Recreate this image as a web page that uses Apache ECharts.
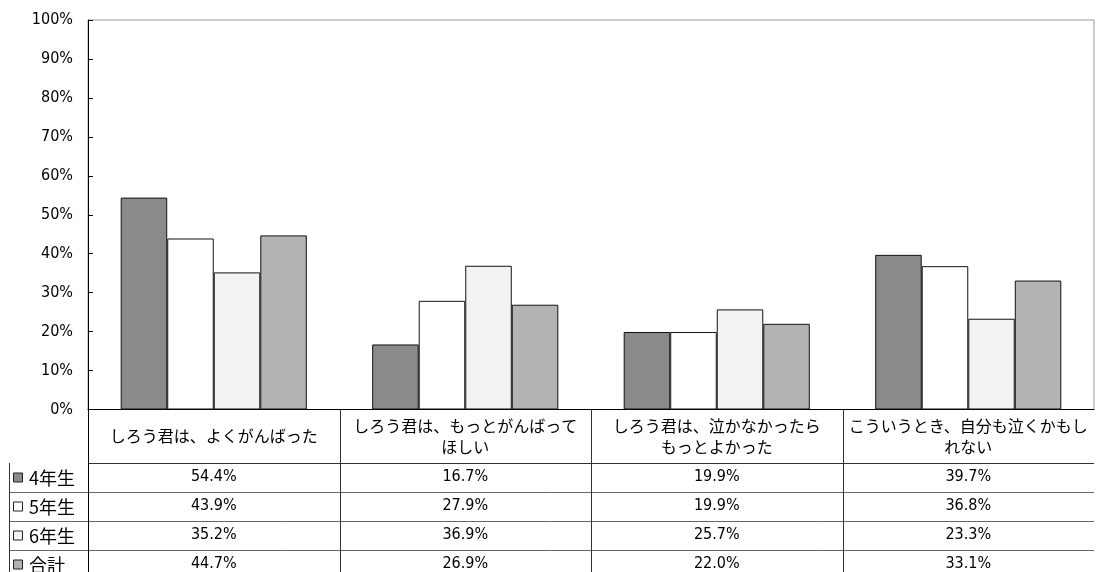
<!DOCTYPE html>
<html>
<head>
<meta charset="utf-8">
<script src="https://cdn.jsdelivr.net/npm/echarts@6/dist/echarts.min.js"></script>
<style>
  html, body { margin: 0; padding: 0; background: #fff; }
  #chart { width: 1098px; height: 572px; }
</style>
</head>
<body>
<div id="chart"></div>
<script>
// categories (as shown in the table header, with its line breaks)
const categories = [
  "しろう君は、よくがんばった",
  "しろう君は、もっとがんばって\nほしい",
  "しろう君は、泣かなかったら\nもっとよかった",
  "こういうとき、自分も泣くかもし\nれない",
];
const grades = ["4年生", "5年生", "6年生", "合計"];
const grade4 = [54.4, 16.7, 19.9, 39.7];
const grade5 = [43.9, 27.9, 19.9, 36.8];
const grade6 = [35.2, 36.9, 25.7, 23.3];
const total = [44.7, 26.9, 22.0, 33.1];
const seriesValues = [grade4, grade5, grade6, total];
const barColors = ["#8a8a8a", "#ffffff", "#f3f3f3", "#b3b3b3"];

const NUM_FONT = "'Liberation Sans Narrow', 'DejaVu Sans Condensed', sans-serif";
const JP_FONT = "'Noto Sans CJK JP', sans-serif";

// layout
const W = 1098, H = 572;
const gridLeft = 88, gridRight = 4, gridTop = 20, axisY = 410;
const headerBottom = 463, rowH = 29;
const plotW = W - gridLeft - gridRight;
const colW = plotW / categories.length;

const chart = echarts.init(document.getElementById("chart"));

// one extra category axis per table row, labels show the row's values
const rowAxes = seriesValues.map((vals, i) => ({
  type: "category",
  data: categories,
  position: "bottom",
  gridIndex: 0,
  axisLine: { show: false },
  axisTick: { show: false },
  axisLabel: {
    interval: 0,
    margin: headerBottom - axisY + rowH * i + rowH / 2,
    verticalAlign: "middle",
    fontFamily: NUM_FONT,
    fontSize: 16,
    color: "#000",
    formatter: (v, idx) => vals[idx].toFixed(1) + "%",
  },
}));

// table lines and row legend
const graphics = [];
const line = (x1, y1, x2, y2, color) =>
  graphics.push({
    type: "line",
    shape: { x1, y1, x2, y2 },
    style: { stroke: color || "#333", lineWidth: 1 },
    silent: true,
  });
line(gridLeft, headerBottom + 0.5, gridLeft + plotW, headerBottom + 0.5);
for (let i = 1; i <= grades.length; i++) {
  const y = headerBottom + rowH * i + 0.5;
  line(9, y, gridLeft + plotW, y, "#666");
}
line(9.5, headerBottom, 9.5, H);
line(gridLeft + 0.5, axisY, gridLeft + 0.5, H, "#000");
for (let c = 1; c < categories.length; c++) {
  const x = Math.round(gridLeft + colW * c) + 0.5;
  line(x, axisY, x, H);
}
grades.forEach((g, i) => {
  const cy = headerBottom + rowH * i + rowH / 2;
  graphics.push({
    type: "rect",
    shape: { x: 13.5, y: cy - 4.5, width: 9, height: 9 },
    style: { fill: barColors[i], stroke: "#222", lineWidth: 1 },
    silent: true,
  });
  graphics.push({
    type: "text",
    x: 29,
    y: cy + 1,
    style: {
      text: g,
      fontFamily: JP_FONT,
      fontSize: 18,
      fill: "#000",
      verticalAlign: "middle",
    },
    silent: true,
  });
});

chart.setOption({
  animation: false,
  backgroundColor: "#fff",
  grid: {
    left: gridLeft,
    right: gridRight,
    top: gridTop,
    bottom: H - axisY,
    show: true,
    borderColor: "#9a9a9a",
    borderWidth: 1,
    containLabel: false,
  },
  xAxis: [
    {
      type: "category",
      data: categories,
      position: "bottom",
      axisLine: { lineStyle: { color: "#000", width: 1 } },
      axisTick: { show: false },
      axisLabel: {
        interval: 0,
        margin: (headerBottom - axisY) / 2,
        verticalAlign: "middle",
        fontFamily: JP_FONT,
        fontSize: 16,
        lineHeight: 21,
        color: "#000",
      },
    },
    ...rowAxes,
  ],
  yAxis: {
    type: "value",
    min: 0,
    max: 100,
    interval: 10,
    axisLine: { show: true, lineStyle: { color: "#000", width: 1 } },
    axisTick: { show: true, inside: true, length: 5, lineStyle: { color: "#000" } },
    splitLine: { show: false },
    axisLabel: {
      formatter: "{value}%",
      margin: 15,
      fontFamily: NUM_FONT,
      fontSize: 16,
      color: "#000",
    },
  },
  series: grades.map((g, i) => ({
    name: g,
    type: "bar",
    xAxisIndex: 0,
    data: seriesValues[i],
    barGap: 0,
    barCategoryGap: "26%",
    itemStyle: {
      color: barColors[i],
      borderColor: "#111",
      borderWidth: 1,
    },
  })),
  graphic: graphics,
});
</script>
</body>
</html>
